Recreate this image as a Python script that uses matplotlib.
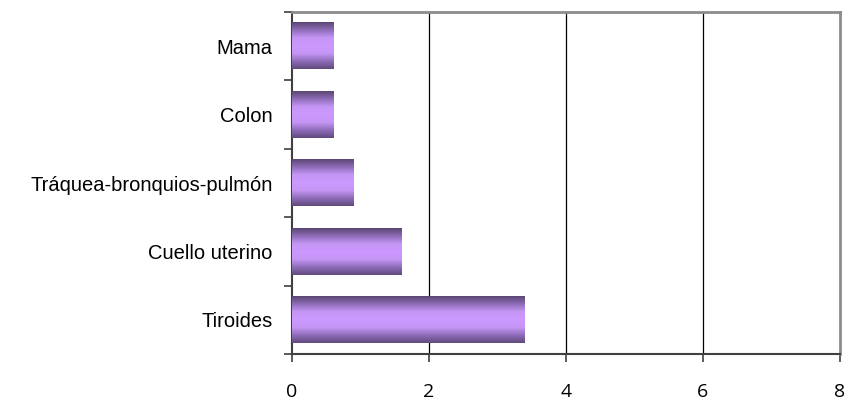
import numpy as np
import matplotlib.pyplot as plt
from matplotlib.colors import LinearSegmentedColormap

categorias = ['Tiroides', 'Cuello uterino', 'Tráquea-bronquios-pulmón', 'Colon', 'Mama']
valores = [3.4, 1.6, 0.9, 0.6, 0.6]
xticks = [0, 2, 4, 6, 8]

fig = plt.figure(figsize=(8.5, 4.07), dpi=100)
ax = fig.add_axes([0.3435, 0.1302, 0.6445, 0.8403])

y = np.arange(len(categorias))
bars = ax.barh(y, valores, height=0.68, color='none', edgecolor='none', zorder=3)

# degradado vertical: oscuro en los bordes, claro en el centro
cmap = LinearSegmentedColormap.from_list('morado', ['#5b4672', '#8e6cb8', '#c596f5', '#cc99ff', '#c596f5', '#8e6cb8', '#604a7b'])
grad = np.linspace(0, 1, 256).reshape(-1, 1)
for b in bars:
    x0, y0 = b.get_x(), b.get_y()
    ax.imshow(grad, cmap=cmap, aspect='auto', origin='upper',
              extent=(x0, x0 + b.get_width(), y0, y0 + b.get_height()), zorder=3)

ax.set_xlim(0, 8)
ax.set_ylim(-0.5, len(categorias) - 0.5)
ax.set_xticks(xticks)
ax.set_xticklabels([str(v) for v in xticks], fontfamily='Open Sans', fontsize=14)
ax.set_yticks(y)
ax.set_yticklabels(categorias, fontfamily='Liberation Sans', fontsize=14.5)
ax.set_yticks(np.arange(len(categorias) + 1) - 0.5, minor=True)

ax.tick_params(axis='y', which='major', length=0, pad=14)
ax.tick_params(axis='y', which='minor', length=6, width=1.2, color='#404040', direction='out')
ax.tick_params(axis='x', length=6, width=1.2, color='#404040', direction='out', pad=15)

for v in xticks[1:-1]:
    ax.axvline(v, color='black', lw=0.9, zorder=1)

for s in ['left', 'bottom']:
    ax.spines[s].set_color('#404040')
    ax.spines[s].set_linewidth(1.5)
for s in ['top', 'right']:
    ax.spines[s].set_color('#8c8c8c')
    ax.spines[s].set_linewidth(2)

fig.savefig('out.png', dpi=100)
